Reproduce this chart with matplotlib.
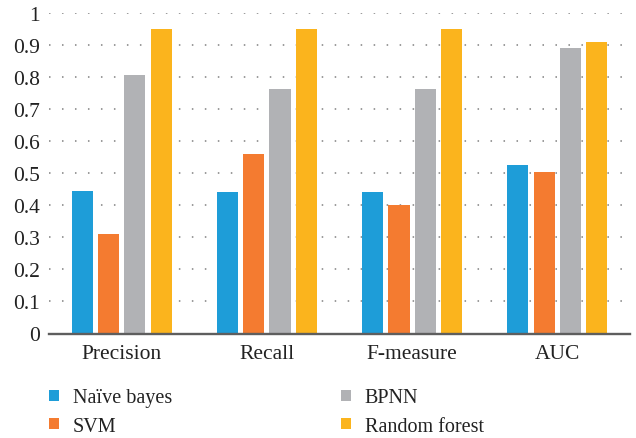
import matplotlib
matplotlib.use("Agg")
import matplotlib.pyplot as plt
import numpy as np
from matplotlib.patches import Patch

categories = ["Precision", "Recall", "F-measure", "AUC"]
models = ["Naïve bayes", "SVM", "BPNN", "Random forest"]
naive_bayes = [0.444, 0.441, 0.441, 0.525]
svm = [0.312, 0.559, 0.400, 0.503]
bpnn = [0.806, 0.762, 0.762, 0.890]
random_forest = [0.950, 0.950, 0.950, 0.909]
yticks = [0, 0.1, 0.2, 0.3, 0.4, 0.5, 0.6, 0.7, 0.8, 0.9, 1]
ytick_labels = ["0", "0.1", "0.2", "0.3", "0.4", "0.5", "0.6", "0.7", "0.8", "0.9", "1"]

colors = ["#1E9DD8", "#F47B30", "#B1B2B5", "#FBB41D"]
series = [naive_bayes, svm, bpnn, random_forest]

plt.rcParams["font.family"] = ["Liberation Serif", "DejaVu Serif"]

W, H = 636, 439
fig = plt.figure(figsize=(W / 100, H / 100), dpi=100)
ax = fig.add_axes([49 / W, (H - 334.5) / H, 581 / W, 320.5 / H])

x = np.arange(len(categories))
width = 0.145
step = 0.181
for i, (vals, col) in enumerate(zip(series, colors)):
    ax.bar(x + (i - 1.5) * step, vals, width=width, color=col, zorder=3)

ax.set_xlim(-0.5, 3.5)
ax.set_ylim(0, 1)
ax.set_yticks(yticks)
ax.set_yticklabels(ytick_labels)
ax.set_xticks(x)
ax.set_xticklabels(categories)

for y in yticks[1:]:
    ax.axhline(y, color="#808080", linewidth=1.1, linestyle=(0, (1, 7.5)), zorder=1)
ax.axhline(0, color="#5e5e5e", linewidth=1.7, zorder=4, clip_on=False)

for s in ax.spines.values():
    s.set_visible(False)
ax.tick_params(axis="both", length=0, labelsize=15.5, colors="#222222")
ax.tick_params(axis="y", pad=6.5)
ax.tick_params(axis="x", pad=7.5)

handles = [Patch(facecolor=c, edgecolor="none") for c in colors]
fig.legend(handles, models, loc="upper left",
           bbox_to_anchor=(49.3 / W, 1 - 389.5 / H), bbox_transform=fig.transFigure,
           ncol=2, frameon=False, fontsize=14.5, borderpad=0, borderaxespad=0,
           handlelength=0.47, handleheight=0.47,
           handletextpad=0.7, columnspacing=8.4, labelspacing=0.45,
           labelcolor="#222222")

fig.savefig("out.png", dpi=100)
